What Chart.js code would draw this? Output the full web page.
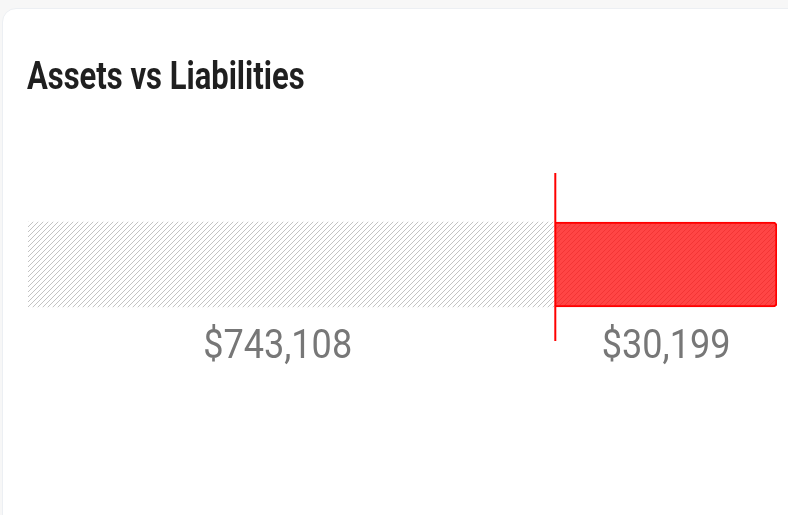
<!DOCTYPE html>
<html>
<head>
<meta charset="utf-8">
<script src="https://cdn.jsdelivr.net/npm/chart.js@4.4.1/dist/chart.umd.min.js"></script>
<style>
  html, body { margin: 0; padding: 0; background: #f7f7f7; overflow: hidden; }
  .card {
    position: absolute; left: 2px; top: 8px; width: 800px; height: 520px;
    background: #fff; border-radius: 14px; border: 1px solid #eceff3;
  }
  .wrap { position: absolute; left: 0; top: 0; width: 788px; height: 515px; }
</style>
</head>
<body>
<div class="card"></div>
<div class="wrap"><canvas id="balance-chart"></canvas></div>
<script>
// chart values
const chartTitle = 'Assets vs Liabilities';
const categories = ['Balance'];
const seriesNames = ['Assets', 'Liabilities'];
const amounts = [743108, 30199];
// share of the bar width each side gets in the picture (not to scale with amounts)
const barShares = [70.4, 29.6];

function makeHatch(bg, line, step) {
    const c = document.createElement('canvas');
    c.width = step; c.height = step;
    const g = c.getContext('2d');
    g.fillStyle = bg;
    g.fillRect(0, 0, step, step);
    g.strokeStyle = line;
    g.lineWidth = 0.9;
    g.beginPath();
    g.moveTo(-1, step + 1); g.lineTo(step + 1, -1);
    g.moveTo(-1, 1); g.lineTo(1, -1);
    g.moveTo(step - 1, step + 1); g.lineTo(step + 1, step - 1);
    g.stroke();
    return g.createPattern(c, 'repeat');
}

const fmt = v => '$' + v.toLocaleString('en-US');

// narrow text: Roboto squeezed horizontally to look like a condensed face
function narrowText(ctx, text, x, y, squeeze, align) {
    const w = ctx.measureText(text).width * squeeze;
    let x0 = x;
    if (align === 'center') x0 = x - w / 2;
    ctx.save();
    ctx.translate(x0, y);
    ctx.scale(squeeze, 1);
    ctx.textAlign = 'left';
    ctx.fillText(text, 0, 0);
    ctx.restore();
}

// title, red divider at the join and the amounts under each side
const dividerAndLabels = {
    id: 'dividerAndLabels',
    afterDatasetsDraw(chart) {
        const ctx = chart.ctx;
        const left = chart.getDatasetMeta(0).data[0];
        const right = chart.getDatasetMeta(1).data[0];
        const x = chart.scales.x.getPixelForValue(barShares[0]);
        const barBottom = left.y + left.height / 2;
        ctx.save();
        ctx.textBaseline = 'alphabetic';

        ctx.fillStyle = '#1f1f1f';
        ctx.font = 'bold 38px Roboto';
        narrowText(ctx, chartTitle, 27, 89, 0.815, 'left');

        ctx.strokeStyle = '#ff0000';
        ctx.lineWidth = 2;
        ctx.beginPath();
        ctx.moveTo(x, chart.chartArea.top - 15);
        ctx.lineTo(x, chart.chartArea.bottom);
        ctx.stroke();

        ctx.fillStyle = '#777777';
        ctx.font = '41px Roboto';
        narrowText(ctx, fmt(amounts[0]), x / 2, barBottom + 51, 0.88, 'center');
        narrowText(ctx, fmt(amounts[1]), (x + right.x) / 2, barBottom + 51, 0.88, 'center');
        ctx.restore();
    }
};

const ctx = document.getElementById('balance-chart').getContext('2d');
new Chart(ctx, {
    type: 'bar',
    data: {
        labels: categories,
        datasets: [{
            label: seriesNames[0],
            data: [barShares[0]],
            backgroundColor: makeHatch('#ffffff', '#bcbcbc', 5),
            borderWidth: 0,
            barThickness: 85
        }, {
            label: seriesNames[1],
            data: [barShares[1]],
            backgroundColor: makeHatch('#ff4545', '#f23333', 5),
            borderColor: '#ff0000',
            borderWidth: 2,
            borderSkipped: 'start',
            borderRadius: { topRight: 4, bottomRight: 4 },
            barThickness: 85
        }]
    },
    options: {
        indexAxis: 'y',
        responsive: true,
        maintainAspectRatio: false,
        animation: false,
        layout: { padding: { left: 28, right: 11, top: 188, bottom: 174 } },
        scales: {
            x: { stacked: true, min: 0, max: 100, display: false },
            y: { stacked: true, display: false }
        },
        plugins: {
            legend: { display: false },
            tooltip: { enabled: false },
            title: { display: false }
        }
    },
    plugins: [dividerAndLabels]
});
</script>
</body>
</html>
